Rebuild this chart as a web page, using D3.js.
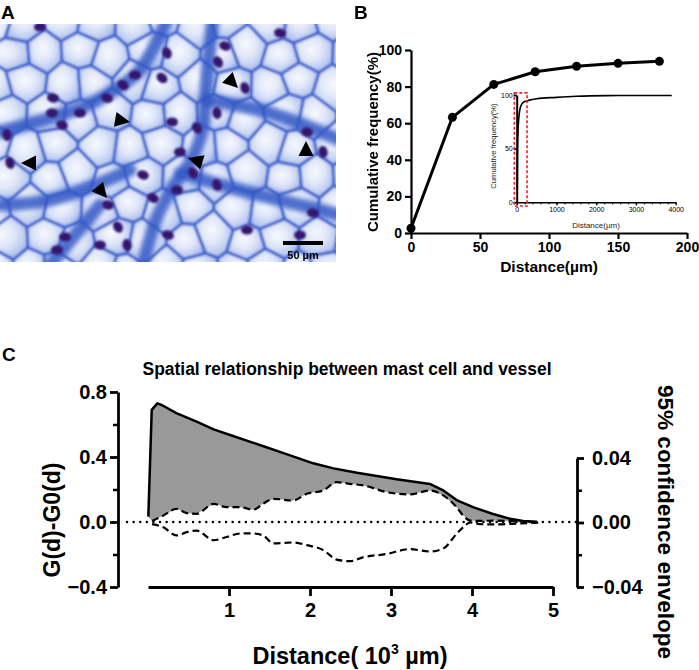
<!DOCTYPE html>
<html>
<head>
<meta charset="utf-8">
<script src="https://cdn.jsdelivr.net/npm/d3@7"></script>
<style>
    body { margin: 0; background: #fff; }
    svg { display: block; }
</style>
</head>
<body>
<script>
// ---- panel B : cumulative frequency ----
const distB = [0, 30, 60, 90, 120, 150, 180]
const freqB = [2.6, 63.2, 81.2, 88.1, 91.1, 92.7, 93.8]
const ticksBx = [0, 50, 100, 150, 200]
const ticksBy = [0, 20, 40, 60, 80, 100]

// inset (full range)
const insetDist = [15, 20, 30, 60, 90, 120, 180, 300, 500, 1000, 1500, 2250, 3000, 3900]
const insetFreq = [12, 40, 63, 81, 88, 91, 93.5, 95, 96.5, 97.8, 98.8, 99.4, 99.5, 99.5]
const ticksIx = [0, 1000, 2000, 3000, 4000]
const ticksIy = [0, 50, 100]
const zoomBox = { x0: -60, x1: 260, y0: -3.5, y1: 102 }

// ---- panel C : G(d)-G0(d) ----
const obsX = [0.004, 0.046, 0.115, 0.17, 0.35, 0.6, 0.81, 1.05, 1.38, 1.71, 2.04, 2.29, 2.58, 3.07, 3.48, 3.65, 3.81, 4.02, 4.26, 4.47, 4.63, 4.8]
const obsY = [0.033, 0.69, 0.73, 0.72, 0.67, 0.618, 0.57, 0.529, 0.474, 0.418, 0.361, 0.33, 0.303, 0.263, 0.234, 0.193, 0.135, 0.09, 0.049, 0.02, 0.006, 0.002]
const envX = [0.05, 0.19, 0.35, 0.48, 0.6, 0.81, 0.97, 1.14, 1.3, 1.42, 1.55, 1.79, 1.96, 2.16, 2.33, 2.49, 2.66, 2.95, 3.23, 3.48, 3.65, 3.81, 3.89, 3.98, 4.1, 4.3, 4.5, 4.7, 4.85]
const envUp = [0.001, 0.0043, 0.0085, 0.0058, 0.0054, 0.0116, 0.0095, 0.0095, 0.0079, 0.0116, 0.0147, 0.0136, 0.0178, 0.0198, 0.025, 0.024, 0.023, 0.0188, 0.0174, 0.0198, 0.0167, 0.0095, 0.0043, 0.0012, 0.001, 0.0012, 0.0008, 0.0004, 0]
const envLo = [-0.001, -0.003, -0.008, -0.006, -0.005, -0.011, -0.009, -0.0068, -0.0068, -0.008, -0.013, -0.0124, -0.014, -0.017, -0.023, -0.024, -0.0215, -0.0195, -0.0165, -0.018, -0.016, -0.007, -0.003, 0, -0.001, -0.0012, -0.0008, -0.0004, 0]
const ticksCx = [1, 2, 3, 4, 5]
const ticksCl = [-0.4, 0, 0.4, 0.8]
const minorCl = [-0.2, 0.2, 0.6]
const ticksCr = [-0.04, 0, 0.04]
const minorCr = [-0.02, 0.02]

// ---- panel A : stained section (drawn sketch) ----
const nuclei = [[40,27,0],[280,33,10],[225,46,20],[218,62,60],[167,53,70],[162,78,40],[135,75,0],[123,85,30],[107,98,20],[80,113,0],
    [53,98,10],[52,113,0],[62,125,20],[7,135,80],[245,88,70],[217,113,80],[172,122,0],[197,128,60],[307,132,10],[180,152,0],
    [323,152,80],[10,163,70],[193,173,60],[143,175,20],[217,185,70],[177,190,0],[153,198,30],[108,205,10],[65,237,0],[118,227,60],
    [247,230,0],[300,235,0],[313,213,10],[127,245,80],[100,245,0],[57,250,0],[168,235,20]]
const arrows = [[238,88,45],[130,122,10],[21,163,180],[107,198,50],[188,158,197],[306,141,270]]
const bands = [
    [[167,20],[140,70],[110,93],[83,107],[43,120],[0,132]],
    [[213,20],[207,77],[203,127],[193,157],[173,187],[157,217],[143,265]],
    [[205,100],[267,112],[340,140]],
    [[180,173],[240,190],[300,205],[340,215]],
    [[0,205],[50,200],[95,185],[130,170]],
    [[100,205],[75,235],[50,265]]
]
const jitterX = [4, -6, 3, -2, 7, -4, 1, -7, 5, 0, -3, 6, -5]
const jitterY = [-3, 5, -4, 2, 3, -6, 6, -2, 0, 4, -5, 1, -1]

const font = '"Liberation Sans", Arial, Helvetica, sans-serif'
const W = 699, H = 670

const svg = d3.select('body').append('svg')
    .attr('width', W)
    .attr('height', H)
    .style('font-family', font)
const defs = svg.append('defs')

function styleAxis(g, lw, fs, weight) {
    g.attr('font-family', font)
    g.select('.domain').attr('stroke', '#000').attr('stroke-width', lw)
    g.selectAll('.tick line').attr('stroke', '#000').attr('stroke-width', lw)
    g.selectAll('.tick text')
        .attr('fill', '#000')
        .attr('font-size', fs)
        .attr('font-weight', weight)
}

function panelLabel(t, x, y) {
    svg.append('text').attr('x', x).attr('y', y)
        .attr('font-size', 19).attr('font-weight', 'bold').text(t)
}

// ================= A =================
panelLabel('A', 1, 19)

defs.append('clipPath').attr('id', 'clipA')
    .append('rect').attr('x', 0).attr('y', 24).attr('width', 336).attr('height', 238)
const grad = defs.append('radialGradient').attr('id', 'cellGrad')
    .attr('cx', '45%').attr('cy', '42%').attr('r', '62%')
grad.append('stop').attr('offset', '0%').attr('stop-color', '#f7f9ff')
grad.append('stop').attr('offset', '45%').attr('stop-color', '#dfe6f8')
grad.append('stop').attr('offset', '80%').attr('stop-color', '#b9c9f0')
grad.append('stop').attr('offset', '100%').attr('stop-color', '#8fa8e6')
defs.append('filter').attr('id', 'blur2')
    .append('feGaussianBlur').attr('stdDeviation', 2.5)
defs.append('filter').attr('id', 'blur05')
    .append('feGaussianBlur').attr('stdDeviation', 0.8)

const photo = svg.append('g').attr('clip-path', 'url(#clipA)')
photo.append('rect')
    .attr('x', 0).attr('y', 24).attr('width', 336).attr('height', 238)
    .attr('fill', '#4e72d4')

// acinar cells: voronoi of a staggered seed grid
const seeds = []
let k = 0
for (let r = 0; r < 9; r++) {
    for (let c = 0; c < 11; c++) {
        seeds.push([c * 34 + (r % 2) * 17 - 6 + jitterX[k % 13], 22 + r * 31 + jitterY[k % 13]])
        k++
    }
}
const vor = d3.Delaunay.from(seeds).voronoi([-20, 0, 360, 290])
photo.append('g').attr('filter', 'url(#blur05)')
    .selectAll('path').data(seeds).join('path')
    .attr('d', (d, i) => vor.renderCell(i))
    .attr('fill', 'url(#cellGrad)')
    .attr('stroke', '#3d64d0')
    .attr('stroke-width', 3)
    .attr('stroke-linejoin', 'round')

const bandLine = d3.line().curve(d3.curveCatmullRom)
photo.append('g').attr('filter', 'url(#blur2)')
    .selectAll('path').data(bands).join('path')
    .attr('d', bandLine)
    .attr('fill', 'none')
    .attr('stroke', '#3257c6')
    .attr('stroke-opacity', 0.85)
    .attr('stroke-width', 13)
    .attr('stroke-linecap', 'round')

photo.append('g').attr('filter', 'url(#blur05)')
    .selectAll('ellipse').data(nuclei).join('ellipse')
    .attr('transform', d => `translate(${d[0]},${d[1]}) rotate(${d[2]})`)
    .attr('rx', 6).attr('ry', 4.6)
    .attr('fill', '#36166e')

// arrowheads
function triangle(d) {
    const a = d[2] * Math.PI / 180
    const len = 15, half = 7.5
    const dx = Math.cos(a), dy = Math.sin(a)
    const bx = d[0] - len * dx, by = d[1] - len * dy
    return [[d[0], d[1]], [bx - half * dy, by + half * dx], [bx + half * dy, by - half * dx]]
}
photo.selectAll('polygon').data(arrows).join('polygon')
    .attr('points', d => triangle(d).join(' '))
    .attr('fill', '#000')

photo.append('rect').attr('x', 283).attr('y', 241).attr('width', 40).attr('height', 4).attr('fill', '#000')
svg.append('text').attr('x', 303).attr('y', 259)
    .attr('text-anchor', 'middle').attr('font-size', 11).attr('font-weight', 'bold')
    .text('50 µm')

// ================= B =================
panelLabel('B', 354, 19)

const xB = d3.scaleLinear([0, 200], [411, 687])
const yB = d3.scaleLinear([0, 100], [233, 50])

const gBx = svg.append('g').attr('transform', 'translate(0,233)')
    .call(d3.axisBottom(xB).tickValues(ticksBx).tickSize(6).tickSizeOuter(0).tickPadding(3))
styleAxis(gBx, 2.2, 14, 'bold')
const gBy = svg.append('g').attr('transform', 'translate(411,0)')
    .call(d3.axisLeft(yB).tickValues(ticksBy).tickSize(6).tickSizeOuter(0).tickPadding(3))
styleAxis(gBy, 2.2, 14, 'bold')

svg.append('text').attr('x', 549).attr('y', 272)
    .attr('text-anchor', 'middle').attr('font-size', 15.5).attr('font-weight', 'bold')
    .text('Distance(µm)')
svg.append('text').attr('transform', 'translate(378,142) rotate(-90)')
    .attr('text-anchor', 'middle').attr('font-size', 15).attr('font-weight', 'bold')
    .text('Cumulative frequency(%)')

svg.append('path')
    .datum(distB.map((d, i) => [d, freqB[i]]))
    .attr('d', d3.line().x(d => xB(d[0])).y(d => yB(d[1])))
    .attr('fill', 'none').attr('stroke', '#000').attr('stroke-width', 3)
    .attr('stroke-linejoin', 'round')
svg.append('g').selectAll('circle').data(distB).join('circle')
    .attr('cx', d => xB(d)).attr('cy', (d, i) => yB(freqB[i]))
    .attr('r', 4.5).attr('fill', '#000')

// inset
const xI = d3.scaleLinear([0, 4000], [516.7, 675.7])
const yI = d3.scaleLinear([0, 100], [202.3, 95])

const gIx = svg.append('g').attr('transform', 'translate(0,202.3)')
    .call(d3.axisBottom(xI).tickValues(ticksIx).tickSize(3).tickSizeOuter(0).tickPadding(2)
        .tickFormat(d3.format('d')))
styleAxis(gIx, 1.4, 7, 'normal')
svg.append('g').attr('transform', 'translate(0,202.3)')
    .call(d3.axisBottom(xI).tickValues(d3.range(200, 4000, 200)).tickSize(2).tickSizeOuter(0).tickFormat(''))
    .call(g => g.select('.domain').remove())
    .selectAll('line').attr('stroke', '#000').attr('stroke-width', 1.2)
const gIy = svg.append('g').attr('transform', 'translate(516.7,0)')
    .call(d3.axisLeft(yI).tickValues(ticksIy).tickSize(3).tickSizeOuter(0).tickPadding(1))
styleAxis(gIy, 2, 7, 'normal')

svg.append('path')
    .datum(insetDist.map((d, i) => [d, insetFreq[i]]))
    .attr('d', d3.line().x(d => xI(d[0])).y(d => yI(d[1])).curve(d3.curveMonotoneX))
    .attr('fill', 'none').attr('stroke', '#000').attr('stroke-width', 1.6)

svg.append('rect')
    .attr('x', xI(zoomBox.x0)).attr('y', yI(zoomBox.y1))
    .attr('width', xI(zoomBox.x1) - xI(zoomBox.x0))
    .attr('height', yI(zoomBox.y0) - yI(zoomBox.y1))
    .attr('fill', 'none').attr('stroke', '#e8232b').attr('stroke-width', 1.6)
    .attr('stroke-dasharray', '3,2')

svg.append('text').attr('x', 596).attr('y', 228)
    .attr('text-anchor', 'middle').attr('font-size', 8).attr('fill', '#222')
    .text('Distance(µm)')
svg.append('text').attr('transform', 'translate(496,146) rotate(-90)')
    .attr('text-anchor', 'middle').attr('font-size', 7.6).attr('fill', '#222')
    .text('Cumulative frequency(%)')

// ================= C =================
panelLabel('C', 2, 361)

svg.append('text').attr('x', 347).attr('y', 375)
    .attr('text-anchor', 'middle').attr('font-size', 17.5).attr('font-weight', 'bold')
    .attr('textLength', 409).attr('lengthAdjust', 'spacingAndGlyphs')
    .text('Spatial relationship between mast cell and vessel')

const xC = d3.scaleLinear([0, 5], [148, 553])
const yL = d3.scaleLinear([-0.4, 0.8], [587, 392])
const yR = d3.scaleLinear([-0.04, 0.04], [587, 458])

// shaded area between observed curve and upper envelope
const obsPts = obsX.map((x, i) => [xC(x), yL(obsY[i])])
const upPts = envX.map((x, i) => [xC(x), yR(envUp[i])])
svg.append('path')
    .attr('d', d3.line()(obsPts.concat(upPts.slice().reverse())) + 'Z')
    .attr('fill', '#999999')

svg.append('line')
    .attr('x1', 127).attr('x2', 577).attr('y1', yL(0)).attr('y2', yL(0))
    .attr('stroke', '#000').attr('stroke-width', 2.4)
    .attr('stroke-dasharray', '0.1,6.5').attr('stroke-linecap', 'round')

const envLine = d3.line().curve(d3.curveMonotoneX)
svg.append('path')
    .attr('d', envLine(upPts))
    .attr('fill', 'none').attr('stroke', '#000').attr('stroke-width', 2.2)
    .attr('stroke-dasharray', '7,4')
svg.append('path')
    .attr('d', envLine(envX.map((x, i) => [xC(x), yR(envLo[i])])))
    .attr('fill', 'none').attr('stroke', '#000').attr('stroke-width', 2.2)
    .attr('stroke-dasharray', '7,4')
svg.append('path')
    .attr('d', d3.line()(obsPts))
    .attr('fill', 'none').attr('stroke', '#000').attr('stroke-width', 2.5)
    .attr('stroke-linejoin', 'round')

// axes
const gCx = svg.append('g').attr('transform', 'translate(0,587)')
    .call(d3.axisBottom(xC).tickValues(ticksCx).tickSize(9).tickSizeOuter(0).tickPadding(7)
        .tickFormat(d3.format('d')))
styleAxis(gCx, 2.8, 20, 'bold')

const gCl = svg.append('g').attr('transform', 'translate(118,0)')
    .call(d3.axisLeft(yL).tickValues(ticksCl).tickSize(8).tickSizeOuter(0).tickPadding(3)
        .tickFormat(d3.format('.1f')))
styleAxis(gCl, 2.8, 20, 'bold')
svg.append('g').attr('transform', 'translate(118,0)')
    .call(d3.axisLeft(yL).tickValues(minorCl).tickSize(5).tickFormat(''))
    .call(g => g.select('.domain').remove())
    .selectAll('line').attr('stroke', '#000').attr('stroke-width', 2.5)

const gCr = svg.append('g').attr('transform', 'translate(577,0)')
    .call(d3.axisRight(yR).tickValues(ticksCr).tickSize(7).tickSizeOuter(0).tickPadding(8)
        .tickFormat(d3.format('.2f')))
styleAxis(gCr, 2.8, 20, 'bold')
svg.append('g').attr('transform', 'translate(577,0)')
    .call(d3.axisRight(yR).tickValues(minorCr).tickSize(5).tickFormat(''))
    .call(g => g.select('.domain').remove())
    .selectAll('line').attr('stroke', '#000').attr('stroke-width', 2.5)

svg.append('text').attr('transform', 'translate(60,520) rotate(-90)')
    .attr('text-anchor', 'middle').attr('font-size', 23).attr('font-weight', 'bold')
    .text('G(d)-G0(d)')
svg.append('text').attr('transform', 'translate(658,522) rotate(90)')
    .attr('text-anchor', 'middle').attr('font-size', 22.5).attr('font-weight', 'bold')
    .text('95% confidence envelope')

const xl = svg.append('text').attr('x', 350).attr('y', 664)
    .attr('text-anchor', 'middle').attr('font-size', 23.5).attr('font-weight', 'bold')
xl.append('tspan').text('Distance( 10')
xl.append('tspan').attr('dy', -10).attr('font-size', 14).text('3')
xl.append('tspan').attr('dy', 10).text(' µm)')
</script>
</body>
</html>
